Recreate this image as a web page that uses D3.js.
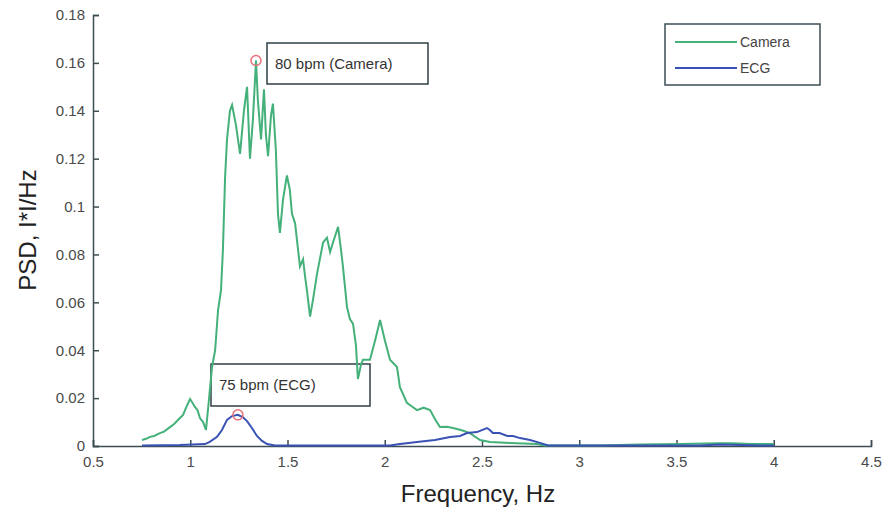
<!DOCTYPE html>
<html><head><meta charset="utf-8">
<script src="https://cdn.jsdelivr.net/npm/d3@7"></script>
<style>body{margin:0;background:#fff}svg{display:block;font-family:"Liberation Sans",Arial,sans-serif}</style>
</head><body>
<script>
const xTicks = [0.5,1,1.5,2,2.5,3,3.5,4,4.5];
const yTicks = [0,0.02,0.04,0.06,0.08,0.1,0.12,0.14,0.16,0.18];
const seriesNames = ["Camera","ECG"];
const cameraFreq = [0.752,0.773,0.793,0.814,0.844,0.865,0.896,0.917,0.947,0.963,0.978,0.999,1.012,1.024,1.037,1.050,1.066,1.081,1.096,1.112,1.128,1.143,1.158,1.168,1.179,1.189,1.204,1.215,1.235,1.256,1.276,1.292,1.307,1.322,1.338,1.348,1.364,1.379,1.389,1.400,1.415,1.425,1.440,1.451,1.461,1.477,1.497,1.512,1.523,1.539,1.564,1.580,1.590,1.600,1.616,1.631,1.652,1.683,1.703,1.719,1.734,1.760,1.775,1.785,1.806,1.821,1.837,1.852,1.862,1.878,1.888,1.924,1.950,1.976,2.001,2.027,2.063,2.078,2.114,2.140,2.166,2.200,2.233,2.260,2.284,2.320,2.351,2.400,2.438,2.490,2.541,2.644,2.783,2.820,3.100,3.310,3.520,3.720,3.790,3.880,4.000];
const cameraPSD = [0.0025,0.0030,0.0038,0.0042,0.0054,0.0060,0.0079,0.0092,0.0117,0.0130,0.0159,0.0196,0.0180,0.0163,0.0150,0.0117,0.0100,0.0067,0.0192,0.0330,0.0400,0.0568,0.0650,0.0820,0.1120,0.1280,0.1400,0.1424,0.1340,0.1220,0.1400,0.1500,0.1200,0.1360,0.1610,0.1440,0.1280,0.1490,0.1300,0.1210,0.1380,0.1430,0.1240,0.0970,0.0890,0.1030,0.1130,0.1070,0.0970,0.0930,0.0750,0.0780,0.0710,0.0650,0.0540,0.0610,0.0720,0.0850,0.0870,0.0810,0.0850,0.0915,0.0820,0.0750,0.0580,0.0530,0.0510,0.0420,0.0280,0.0340,0.0360,0.0360,0.0440,0.0526,0.0440,0.0360,0.0330,0.0246,0.0180,0.0165,0.0150,0.0160,0.0150,0.0110,0.0079,0.0080,0.0075,0.0065,0.0054,0.0025,0.0017,0.0013,0.0008,0.0002,0.0002,0.0006,0.0008,0.0012,0.0012,0.0008,0.0008];
const ecgFreq = [0.752,0.947,1.076,1.100,1.138,1.163,1.189,1.215,1.245,1.271,1.292,1.317,1.343,1.369,1.395,1.436,2.027,2.078,2.166,2.258,2.336,2.387,2.423,2.474,2.526,2.540,2.556,2.590,2.630,2.660,2.695,2.747,2.798,2.840,3.620,3.720,3.830,3.930,4.000];
const ecgPSD = [0.0002,0.0004,0.0008,0.0017,0.0038,0.0067,0.0109,0.0125,0.0130,0.0120,0.0104,0.0075,0.0042,0.0021,0.0008,0.0002,0.0002,0.0008,0.0017,0.0025,0.0038,0.0042,0.0054,0.0058,0.0075,0.0067,0.0054,0.0054,0.0042,0.0042,0.0033,0.0025,0.0013,0.0002,0.0002,0.0006,0.0004,0.0002,0.0002];
const peakLabels = ["80 bpm (Camera)","75 bpm (ECG)"];
const peakFreq = [1.338,1.245];
const peakPSD = [0.161,0.013];

const W=887,H=512;
const svg=d3.select("body").append("svg").attr("width",W).attr("height",H);
const x=d3.scaleLinear().domain([0.5,4.5]).range([93,871]);
const y=d3.scaleLinear().domain([0,0.18]).range([446,15]);
const axisColor="#3d4d55";

const gx=svg.append("g").attr("transform","translate(0,446)")
  .call(d3.axisBottom(x).tickValues(xTicks).tickSize(-6).tickPadding(10).tickFormat(d3.format("")));
const gy=svg.append("g").attr("transform","translate(93,0)")
  .call(d3.axisLeft(y).tickValues(yTicks).tickSize(-6).tickPadding(8).tickFormat(d3.format("")));
[gx,gy].forEach(g=>{
  g.select(".domain").attr("stroke",axisColor).attr("stroke-width",1.5);
  g.selectAll(".tick line").attr("stroke",axisColor).attr("stroke-width",1.5);
  g.selectAll(".tick text").attr("fill","#4a4a4a").style("font-size","15px");
});
gy.selectAll(".tick line").attr("x2",6);
gx.selectAll(".tick line").attr("y2",-6);

// annotation boxes (transparent, lines show through)
const boxes=[{x:267,y:43,w:161,h:41},{x:211,y:364,w:159,h:42}];
boxes.forEach((b,i)=>{
  svg.append("rect").attr("x",b.x).attr("y",b.y).attr("width",b.w).attr("height",b.h)
    .attr("fill","none").attr("stroke","#2f3f45").attr("stroke-width",1.5);
  svg.append("text").attr("x",b.x+8).attr("y",b.y+b.h/2+5).text(peakLabels[i])
    .attr("fill","#333").style("font-size","15px");
});

const line=d3.line().x(d=>x(d[0])).y(d=>y(d[1]));
const cam=cameraFreq.map((f,i)=>[f,cameraPSD[i]]);
const ecg=ecgFreq.map((f,i)=>[f,ecgPSD[i]]);
svg.append("path").datum(cam).attr("d",line).attr("fill","none").attr("stroke","#44b07a").attr("stroke-width",2);
svg.append("path").datum(ecg).attr("d",line).attr("fill","none").attr("stroke","#3a52b4").attr("stroke-width",2);

// peak markers
svg.selectAll("circle.pk").data(peakFreq).enter().append("circle")
  .attr("cx",(d,i)=>x(d)).attr("cy",(d,i)=>y(peakPSD[i])).attr("r",5)
  .attr("fill","none").attr("stroke","#e8707a").attr("stroke-width",1.5);

// legend
const lg=svg.append("g");
lg.append("rect").attr("x",665).attr("y",24).attr("width",155).attr("height",61)
  .attr("fill","#fff").attr("stroke","#3d4d55").attr("stroke-width",1.5);
const colors=["#44b07a","#3a52b4"];
seriesNames.forEach((n,i)=>{
  const yy=42+i*26;
  lg.append("line").attr("x1",675).attr("x2",737).attr("y1",yy).attr("y2",yy).attr("stroke",colors[i]).attr("stroke-width",2);
  lg.append("text").attr("x",740).attr("y",yy+5).text(n).attr("fill","#444").style("font-size","14px");
});

// axis titles
svg.append("text").attr("x",478).attr("y",502).attr("text-anchor","middle").text("Frequency, Hz")
  .attr("fill","#222").style("font-size","24px");
svg.append("text").attr("transform","translate(36,230) rotate(-90)").attr("text-anchor","middle").text("PSD, I*I/Hz")
  .attr("fill","#222").style("font-size","24px");
</script>
</body></html>
